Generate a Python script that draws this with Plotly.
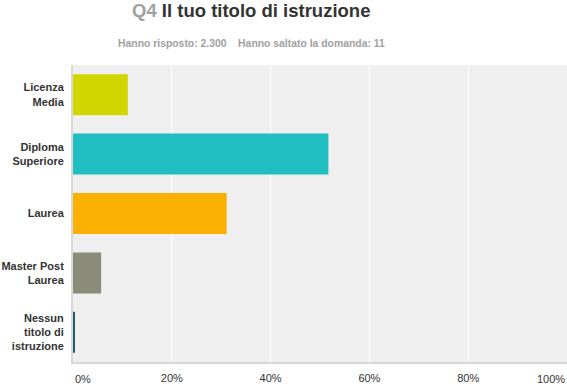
import plotly.graph_objects as go

categories = ["Licenza<br>Media", "Diploma<br>Superiore", "Laurea", "Master Post<br>Laurea", "Nessun<br>titolo di<br>istruzione"]
values = [11.1, 51.7, 31.1, 5.7, 0.4]
colors = ["#d2d600", "#21bec1", "#f9b000", "#8b8b7a", "#1f5c70"]
x_tick_vals = [20, 40, 60, 80]
x_tick_text = ["20%", "40%", "60%", "80%"]

font_family = "Liberation Sans, Arial, sans-serif"
PLOT_TOP, PLOT_H = 65, 297

def py(pixel_y):
    return 1 + (PLOT_TOP - pixel_y) / PLOT_H

fig = go.Figure()
fig.add_trace(go.Bar(
    y=categories, x=values, orientation="h",
    marker=dict(color=colors, line=dict(width=0)),
    width=0.69, hoverinfo="x+y",
))

fig.update_layout(
    width=567, height=386,
    margin=dict(l=73, r=0, t=65, b=24, autoexpand=False),
    paper_bgcolor="white", plot_bgcolor="#efefef",
    showlegend=False,
    font=dict(family=font_family, size=11, color="#333333"),
    annotations=[
        dict(text="<b><span style='color:#a0a0a0'>Q4</span> Il tuo titolo di istruzione</b>",
             xref="paper", yref="paper", x=(250.5 - 73) / 494, y=py(10), yanchor="middle",
             xanchor="center", showarrow=False, font=dict(size=18.5, color="#333333")),
        dict(text="<b>Hanno risposto: 2.300&nbsp;&nbsp;&nbsp;&nbsp;Hanno saltato la domanda: 11</b>",
             xref="paper", yref="paper", x=(251.5 - 73) / 494, y=py(43), yanchor="middle",
             xanchor="center", showarrow=False, font=dict(size=10.4, color="#a0a0a0")),
        dict(text="0%", xref="x", yref="paper", x=0, y=py(379.5),
             xanchor="left", yanchor="middle", showarrow=False, font=dict(size=11, color="#333333")),
        dict(text="100%", xref="x", yref="paper", x=100, y=py(379.5),
             xanchor="right", yanchor="middle", showarrow=False, font=dict(size=11, color="#333333")),
    ],
    xaxis=dict(
        range=[0, 100], tickvals=x_tick_vals, ticktext=x_tick_text,
        showgrid=True, gridcolor="white", gridwidth=1,
        zeroline=False, showline=True, linecolor="#d8d8d8", linewidth=2,
        ticks="outside", ticklen=5, tickcolor="rgba(0,0,0,0)",
        tickfont=dict(size=11, color="#333333"),
        automargin=False, fixedrange=True,
    ),
    yaxis=dict(
        autorange="reversed", showgrid=False, zeroline=False,
        showline=True, linecolor="#d8d8d8", linewidth=2,
        ticks="outside", ticklen=5, tickcolor="rgba(0,0,0,0)",
        tickfont=dict(size=11, color="#333333", weight="bold"),
        automargin=False, fixedrange=True,
    ),
)

fig.write_html("out.html", config={"displayModeBar": False},
               post_script="document.body.style.margin='0';")
